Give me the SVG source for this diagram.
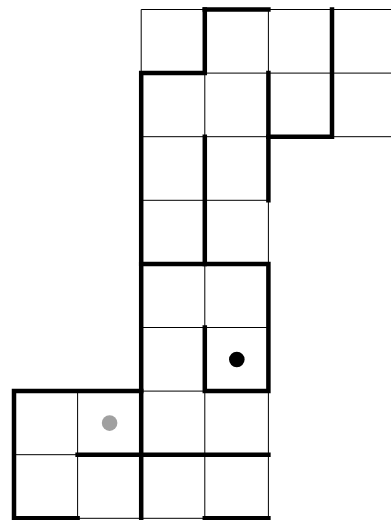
<svg xmlns="http://www.w3.org/2000/svg" width="391" height="520" viewBox="0 0 391 520">
<style>
.thin{stroke:#000;stroke-width:1;fill:none}
.thick{stroke:#000;stroke-width:4.5;fill:none;stroke-linecap:square}
</style>
<rect width="391" height="520" fill="#fff"/>
<g id="grid" class="thin">
<path d="M141.2 9.5H395.6M141.2 73.1H395.6M141.2 136.7H395.6M141.2 200.3H268.4M141.2 263.9H268.4M141.2 327.5H268.4M14 391.1H268.4M14 454.7H268.4M14 518.3H268.4"/>
<path d="M141.2 9.5V518.3M204.8 9.5V518.3M268.4 9.5V518.3M332 9.5V136.7M14 391.1V518.3M77.6 391.1V518.3"/>
</g>
<g id="walls" class="thick">
<path d="M204.8 9.5H268.4"/>
<path d="M204.8 9.5V73.1H141.2V518.3"/>
<path d="M332 9.5V136.7H268.4"/>
<path d="M268.4 73.1V200.3"/>
<path d="M204.8 136.7V263.9"/>
<path d="M141.2 263.9H268.4V391.1H204.8V327.5"/>
<path d="M141.2 391.1H14V518.3H77.6"/>
<path d="M77.6 454.7H268.4"/>
<path d="M204.8 518.3H268.4"/>
</g>
<g id="dots">
<circle cx="236.8" cy="359.5" r="7.8" fill="#000"/>
<circle cx="109.6" cy="423.1" r="7.8" fill="#a0a0a0"/>
</g>
</svg>
